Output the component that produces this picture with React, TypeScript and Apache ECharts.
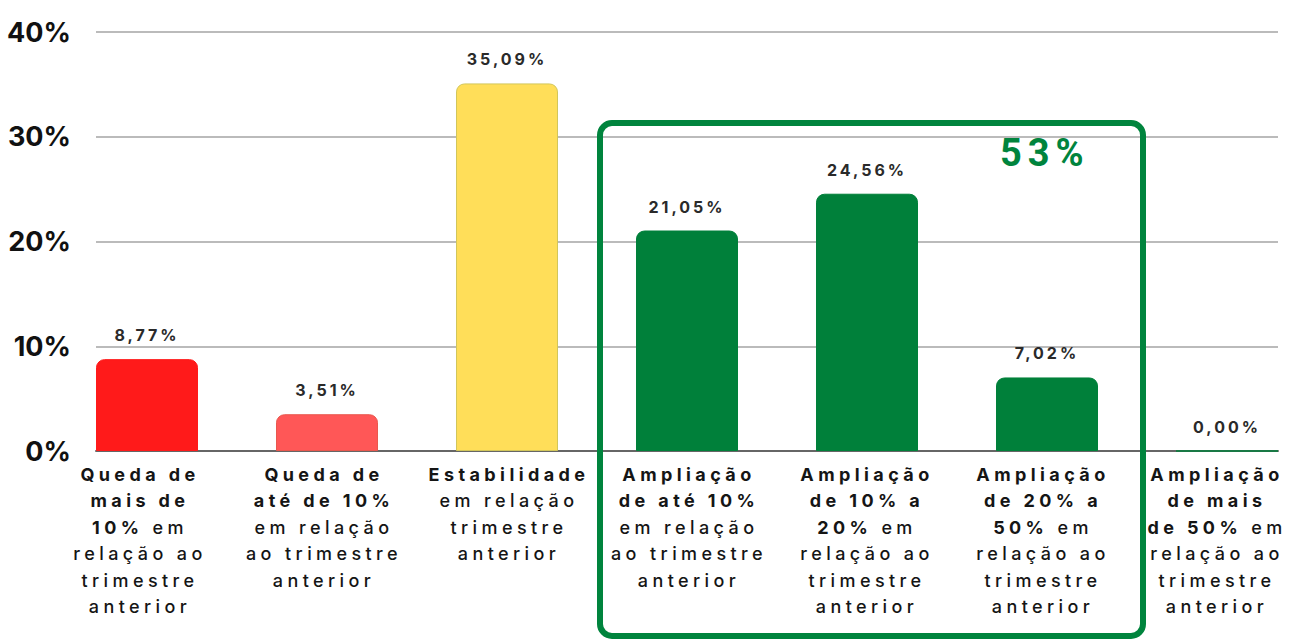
import React, { useEffect, useRef } from "react";
import * as echarts from "echarts";

// ---- data ----
const labelLines: [string, string][][] = [
  [["Queda de", ""], ["mais de", ""], ["10%", " em"], ["", "relação ao"], ["", "trimestre"], ["", "anterior"]],
  [["Queda de", ""], ["até de 10%", ""], ["", "em relação"], ["", "ao trimestre"], ["", "anterior"]],
  [["Estabilidade", ""], ["", "em relação"], ["", "trimestre"], ["", "anterior"]],
  [["Ampliação", ""], ["de até 10%", ""], ["", "em relação"], ["", "ao trimestre"], ["", "anterior"]],
  [["Ampliação", ""], ["de 10% a", ""], ["20%", " em"], ["", "relação ao"], ["", "trimestre"], ["", "anterior"]],
  [["Ampliação", ""], ["de 20% a", ""], ["50%", " em"], ["", "relação ao"], ["", "trimestre"], ["", "anterior"]],
  [["Ampliação", ""], ["de mais", ""], ["de 50%", " em"], ["", "relação ao"], ["", "trimestre"], ["", "anterior"]],
];
const categories = labelLines.map((ls) => ls.map((l) => l.join("")).join(" "));
const values = [8.77, 3.51, 35.09, 21.05, 24.56, 7.02, 0.0];
const barColors = ["#FF1A1A", "#FF5757", "#FFDE59", "#00803A", "#00803A", "#00803A", "#00803A"];
const barBorders = ["#FF1A1A", "#E8584E", "#D2C65A", "#00803A", "#00803A", "#00803A", "#00803A"];
const highlightText = "53%";
const yMin = 0;
const yMax = 40;
const yStep = 10;

// small horizontal nudges of each category label (px, negative = left)
const labelShift = [-7, -3, 2, 2, 0, -4, -10];

const FONT = "Inter";
const CAT_SIZE = 18;
const CAT_SPACING = 4.4;

function measure(text: string, weight: string | number, size: number) {
  const c = document.createElement("canvas");
  const ctx = c.getContext("2d")!;
  ctx.font = `${weight} ${size}px ${FONT}`;
  return ctx.measureText(text).width;
}

export default function App() {
  const ref = useRef<HTMLDivElement>(null);
  useEffect(() => {
    if (!ref.current) return;
    const chart = echarts.init(ref.current, null, { renderer: "svg" });

    const rich: Record<string, any> = {};
    const formatted: string[] = labelLines.map((lines, i) =>
      lines
        .map((pair, j) => {
          const parts = pair
            .map((txt, k) => ({ txt, k }))
            .filter((p) => p.txt);
          return parts
            .map(({ txt, k }, pi) => {
              const key = `t${i}_${j}_${k}`;
              const weight = k === 0 ? 700 : 500;
              const s = labelShift[i];
              let pad = [0, 0, 0, 0];
              if (s < 0 && pi === parts.length - 1) pad = [0, -2 * s, 0, 0];
              if (s > 0 && pi === 0) pad = [0, 0, 0, 2 * s];
              rich[key] = {
                fontFamily: FONT,
                fontSize: CAT_SIZE,
                fontWeight: weight,
                color: "#151515",
                lineHeight: 26.5,
                align: "center",
                width: measure(txt, weight, CAT_SIZE) + txt.length * CAT_SPACING,
                padding: pad,
              };
              return `{${key}|${txt}}`;
            })
            .join("");
        })
        .join("\n")
    );

    chart.setOption({
      animation: false,
      backgroundColor: "#ffffff",
      grid: [
        { left: 96, right: 11, top: 32, bottom: 188, outerBoundsMode: "none" },
        { left: 57, width: 1260, top: 32, bottom: 188, outerBoundsMode: "none" },
      ],
      xAxis: [
        {
          type: "category",
          gridIndex: 0,
          data: categories,
          axisLine: { show: true, lineStyle: { color: "#666666", width: 2 } },
          axisTick: { show: false },
          axisLabel: { show: false },
          splitLine: { show: false },
        },
        {
          type: "category",
          gridIndex: 1,
          data: categories,
          axisLine: { show: false },
          axisTick: { show: false },
          axisLabel: {
            show: true,
            interval: 0,
            margin: 10,
            align: "center",
            formatter: (_v: string, idx: number) => formatted[idx],
            rich,
          },
        },
      ],
      yAxis: [
        {
          type: "value",
          gridIndex: 0,
          min: yMin,
          max: yMax,
          interval: yStep,
          axisLine: { show: false },
          axisTick: { show: false },
          axisLabel: {
            margin: 25,
            formatter: "{value}%",
            fontFamily: FONT,
            fontWeight: "bold",
            fontSize: 27,
            color: "#111111",
          },
          splitLine: { lineStyle: { color: "#BBBBBB", width: 2 } },
        },
        {
          type: "value",
          gridIndex: 1,
          min: yMin,
          max: yMax,
          interval: yStep,
          show: false,
          splitLine: { show: false },
        },
      ],
      series: [
        {
          type: "bar",
          xAxisIndex: 1,
          yAxisIndex: 1,
          barWidth: 102,
          data: values.map((v, i) => ({
            value: v,
            itemStyle: {
              color: barColors[i],
              borderColor: barBorders[i],
              borderWidth: 1,
              borderRadius: [8, 8, 0, 0],
            },
          })),
          label: {
            show: true,
            position: "top",
            distance: 16,
            fontFamily: FONT,
            fontWeight: "bold",
            fontSize: 16,
            color: "#2a2a2a",
            formatter: (p: any) => p.value.toFixed(2).replace(".", ",") + "%",
          },
        },
      ],
      graphic: [
        {
          type: "rect",
          shape: { x: 600, y: 123, width: 543, height: 513, r: 12 },
          style: { fill: "none", stroke: "#00843D", lineWidth: 6 },
          z: 100,
        },
        {
          type: "text",
          x: 1000,
          y: 153,
          style: {
            text: highlightText,
            fill: "#00843D",
            font: "bold 38px Roboto",
            textAlign: "left",
            textVerticalAlign: "middle",
          },
          z: 100,
        },
      ],
    });
    return () => chart.dispose();
  }, []);

  return (
    <>
      <style>{`
        .cc text[style*="18px"] { letter-spacing: ${CAT_SPACING}px; }
        .cc text[style*="16px"] { letter-spacing: 3px; }
        .cc text[style*="38px"] { letter-spacing: 6px; }
      `}</style>
      <div
        ref={ref}
        className="cc"
        style={{ position: "fixed", left: 0, top: 0, width: 1289, height: 639, background: "#fff" }}
      />
    </>
  );
}
